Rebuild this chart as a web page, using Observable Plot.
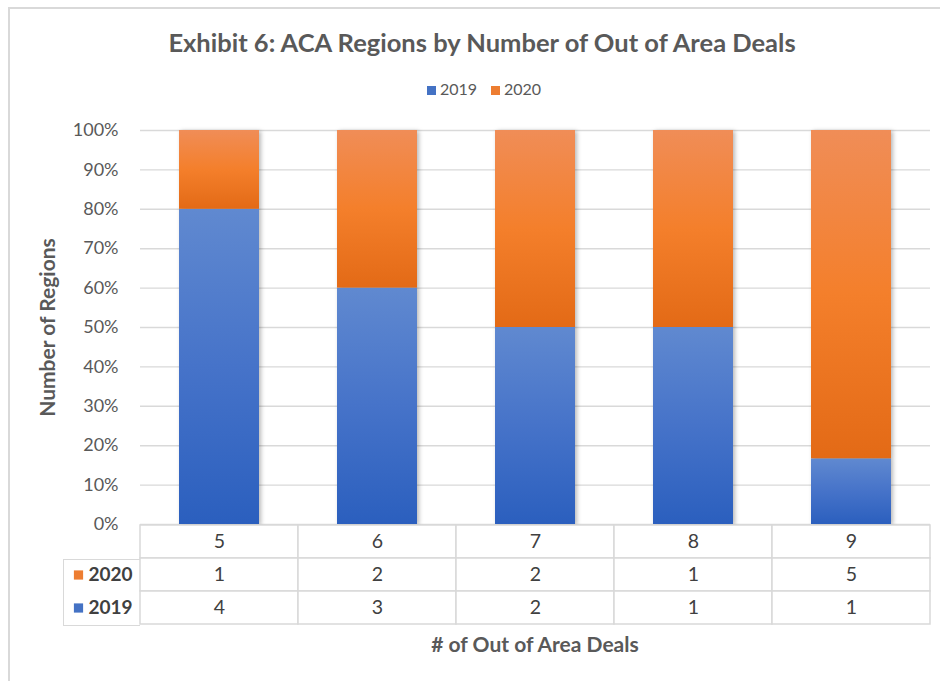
<!DOCTYPE html>
<html>
<head>
<meta charset="utf-8">
<script src="https://cdn.jsdelivr.net/npm/d3@7"></script>
<script src="https://cdn.jsdelivr.net/npm/@observablehq/plot@0.6"></script>
<style>
  html, body { margin: 0; padding: 0; background: #fff; overflow: hidden; }
  body { font-family: Lato, "Open Sans", sans-serif; }
  #wrap { position: relative; width: 940px; height: 681px; }
  #border { position: absolute; left: 8px; top: 7px; width: 1200px; height: 1200px;
            border-left: 2px solid #d9d9d9; border-top: 2px solid #d9d9d9; }
  #title { position: absolute; top: 27px; left: 0px; width: 964px; text-align: center;
           font-size: 25.5px; font-weight: bold; color: #595959; }
  #legend { position: absolute; top: 79px; left: 0px; width: 968px; text-align: center;
            font-size: 16px; color: #595959; }
  #legend span.sw { display: inline-block; width: 9px; height: 9px; margin-right: 4px; }
  #legend span.item { margin: 0 7px; }
  #chart { position: absolute; left: 0; top: 120px; }
  #table { position: absolute; left: 0; top: 522px; }
  #leftcol { position: absolute; left: 63px; top: 559px; width: 77px; height: 67px;
             border: 1.5px solid #d9d9d9; border-right: none; box-sizing: border-box; }
  #xtitle { position: absolute; top: 631px; left: 140px; width: 790px; text-align: center;
            font-size: 21px; font-weight: bold; color: #595959; }
  svg { overflow: visible; }
</style>
</head>
<body>
<div id="wrap">
  <div id="border"></div>
  <div id="title"></div>
  <div id="legend"></div>
  <div id="chart"></div>
  <div id="leftcol"></div>
  <div id="table"></div>
  <div id="xtitle"></div>
</div>
<script>
// ---- data ----
const titleText = "Exhibit 6: ACA Regions by Number of Out of Area Deals";
const xTitle = "# of Out of Area Deals";
const yTitle = "Number of Regions";
const categories = ["5", "6", "7", "8", "9"];
const series = ["2019", "2020"];
const values2019 = [4, 3, 2, 1, 1];
const values2020 = [1, 2, 2, 1, 5];
const yTicks = [0, 0.1, 0.2, 0.3, 0.4, 0.5, 0.6, 0.7, 0.8, 0.9, 1.0];
const legendColors = { "2019": "#4472C4", "2020": "#ED7D31" };

// ---- build rows ----
const rows = [];
categories.forEach((c, i) => {
  rows.push({ cat: c, series: "2019", value: values2019[i] });
  rows.push({ cat: c, series: "2020", value: values2020[i] });
});

document.getElementById("title").textContent = titleText;
document.getElementById("xtitle").textContent = xTitle;
document.getElementById("legend").innerHTML = series.map(s =>
  `<span class="item"><span class="sw" style="background:${legendColors[s]}"></span>${s}</span>`).join("");

const textColor = "#595959";

const chart = Plot.plot({
  width: 940,
  height: 410,
  marginTop: 10,
  marginBottom: 6,
  marginLeft: 140,
  marginRight: 10,
  style: { fontFamily: "Lato, 'Open Sans', sans-serif", background: "transparent", overflow: "visible" },
  x: { type: "band", domain: categories, padding: 0, axis: null },
  y: { domain: [0, 1], axis: null },
  color: { type: "ordinal", domain: series, range: ["url(#g2019)", "url(#g2020)"] },
  marks: [
    Plot.ruleY(yTicks, { stroke: "#d9d9d9", strokeWidth: 1.4 }),
    Plot.barY(rows, Plot.stackY({
      x: "cat", y: "value", fill: "series", offset: "normalize", order: series,
      insetLeft: 39, insetRight: 39
    })),
    Plot.axisY({ ticks: yTicks, tickFormat: d3.format(".0%"), tickSize: 0, tickPadding: 22,
                 fontSize: 18, fill: textColor, label: null }),
    Plot.text([yTitle], { frameAnchor: "left", textAnchor: "middle", rotate: -90, dx: -92,
                          fontSize: 21, fontWeight: "bold", fill: textColor })
  ]
});
chart.insertAdjacentHTML("afterbegin", `
<defs>
  <linearGradient id="g2019" x1="0" y1="0" x2="0" y2="1">
    <stop offset="0" stop-color="#6089D0"/>
    <stop offset="0.5" stop-color="#4673C9"/>
    <stop offset="1" stop-color="#2B5FBE"/>
  </linearGradient>
  <linearGradient id="g2020" x1="0" y1="0" x2="0" y2="1">
    <stop offset="0" stop-color="#F08D57"/>
    <stop offset="0.5" stop-color="#F47F2B"/>
    <stop offset="1" stop-color="#E36A16"/>
  </linearGradient>
</defs>`);
chart.querySelectorAll('g[aria-label="bar"]').forEach(g => {
  g.style.filter = "drop-shadow(2px 1px 2px rgba(0,0,0,0.28))";
});
document.getElementById("chart").appendChild(chart);

// ---- data table ----
const tableRows = ["cat", "2020", "2019"];
const cells = [];
categories.forEach((c, i) => {
  cells.push({ row: "cat", col: c, text: c });
  cells.push({ row: "2020", col: c, text: String(values2020[i]) });
  cells.push({ row: "2019", col: c, text: String(values2019[i]) });
});
const labelRows = ["2020", "2019"];

const table = Plot.plot({
  width: 940,
  height: 105,
  marginTop: 2,
  marginBottom: 2,
  marginLeft: 140,
  marginRight: 10,
  style: { fontFamily: "Lato, 'Open Sans', sans-serif", background: "transparent", overflow: "visible" },
  x: { type: "band", domain: categories, padding: 0, axis: null },
  y: { type: "band", domain: tableRows, padding: 0, axis: null },
  marks: [
    Plot.cell(cells, { x: "col", y: "row", fill: "white", stroke: "#d9d9d9", strokeWidth: 1.5 }),
    Plot.text(cells, { x: "col", y: "row", text: "text", fontSize: 19.5, fill: "#404040" }),
    Plot.dot(labelRows, { y: d => d, frameAnchor: "left", dx: -62, symbol: "square", r: 5.2,
                          fill: d => legendColors[d], stroke: "none" }),
    Plot.text(labelRows, { y: d => d, text: d => d, frameAnchor: "left", dx: -52,
                           textAnchor: "start", fontSize: 19, fontWeight: "bold", fill: "#404040" })
  ]
});
document.getElementById("table").appendChild(table);
</script>
</body>
</html>
